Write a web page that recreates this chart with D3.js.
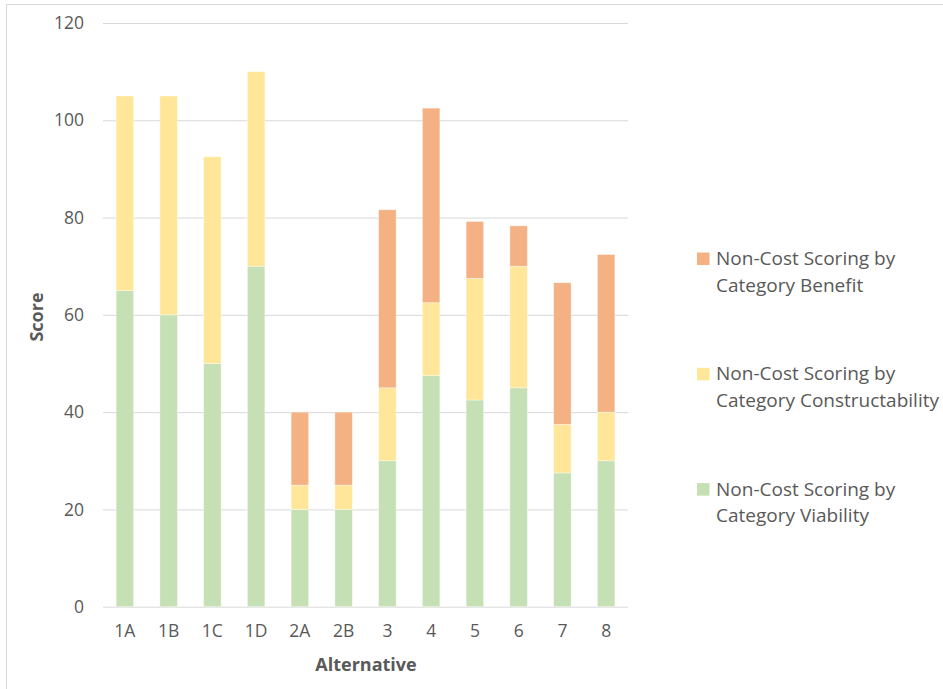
<!DOCTYPE html>
<html>
<head>
<meta charset="utf-8">
<script src="https://cdn.jsdelivr.net/npm/d3@7/dist/d3.min.js"></script>
<style>
  html, body { margin: 0; padding: 0; background: #fff; }
  svg { display: block; }
  text { font-family: "Open Sans", "Noto Sans", sans-serif; fill: #595959; }
</style>
</head>
<body>
<svg id="chart" width="943" height="689"></svg>
<script>
const categories = ["1A","1B","1C","1D","2A","2B","3","4","5","6","7","8"];
const viability = [65, 60, 50, 70, 20, 20, 30, 47.5, 42.5, 45, 27.5, 30];
const constructability = [40, 45, 42.5, 40, 5, 5, 15, 15, 25, 25, 10, 10];
const benefit = [0, 0, 0, 0, 15, 15, 36.6, 40, 11.7, 8.3, 29.1, 32.4];
const yTicks = [0, 20, 40, 60, 80, 100, 120];
const seriesNames = ["Non-Cost Scoring by Category Viability", "Non-Cost Scoring by Category Constructability", "Non-Cost Scoring by Category Benefit"];
const seriesKeys = ["viability", "constructability", "benefit"];
const seriesColors = ["#C5E0B4", "#FFE699", "#F4B183"];

const svg = d3.select("#chart");

// outer frame
svg.append("rect").attr("x", 6.5).attr("y", 4.5).attr("width", 960).attr("height", 700)
  .attr("fill", "none").attr("stroke", "#d9d9d9").attr("stroke-width", 1);

const plot = { left: 103, right: 628, top: 23, bottom: 606.7 };

const x = d3.scaleBand().domain(categories).range([plot.left, plot.right])
  .paddingInner(0.6).paddingOuter(0.3);
const y = d3.scaleLinear().domain([0, 120]).range([plot.bottom, plot.top]);

// gridlines
const yAxis = d3.axisLeft(y).tickValues(yTicks).tickSize(-(plot.right - plot.left)).tickPadding(19);
const gy = svg.append("g").attr("transform", `translate(${plot.left},0)`).call(yAxis);
gy.select(".domain").remove();
gy.selectAll(".tick line").attr("stroke", "#d9d9d9").attr("stroke-width", 1);
gy.selectAll(".tick text").attr("font-size", "17.5px").attr("fill", "#595959")
  .attr("font-family", "'Open Sans', sans-serif");

// data table
const table = categories.map((c, i) => ({
  cat: c, viability: viability[i], constructability: constructability[i], benefit: benefit[i]
}));
const stacked = d3.stack().keys(seriesKeys)(table);

svg.append("g").selectAll("g").data(stacked).join("g")
  .attr("fill", (d, i) => seriesColors[i])
  .selectAll("rect").data(d => d.filter(p => p[1] - p[0] > 0)).join("rect")
  .attr("x", d => x(d.data.cat))
  .attr("width", x.bandwidth())
  .attr("y", d => y(d[1]))
  .attr("height", d => y(d[0]) - y(d[1]))
  .attr("stroke", "#ffffff").attr("stroke-opacity", 0.5).attr("stroke-width", 0.75);

// x axis
const xAxis = d3.axisBottom(x).tickSize(0).tickPadding(18);
const gx = svg.append("g").attr("transform", `translate(0,${plot.bottom})`).call(xAxis);
gx.select(".domain").remove();
gx.selectAll(".tick text").attr("font-size", "17.5px").attr("fill", "#595959")
  .attr("font-family", "'Open Sans', sans-serif");

// axis titles
svg.append("text").attr("transform", `translate(43,317) rotate(-90)`)
  .attr("text-anchor", "middle").attr("font-size", "18px").attr("font-weight", "bold")
  .text("Score");
svg.append("text").attr("x", 366).attr("y", 671)
  .attr("text-anchor", "middle").attr("font-size", "18px").attr("font-weight", "bold")
  .text("Alternative");

// legend (reverse order: benefit on top)
const legendOrder = [2, 1, 0];
const legend = svg.append("g");
legendOrder.forEach((si, k) => {
  const base = 265 + k * 115.3;
  legend.append("rect").attr("x", 697).attr("y", base - 12.5).attr("width", 12.5).attr("height", 12.5)
    .attr("fill", seriesColors[si]);
  const words = seriesNames[si].split(" ");
  const line1 = words.slice(0, 3).join(" ");
  const line2 = words.slice(3).join(" ");
  legend.append("text").attr("x", 716).attr("y", base).attr("font-size", "19px").text(line1);
  legend.append("text").attr("x", 716).attr("y", base + 26.7).attr("font-size", "19px").text(line2);
});
</script>
</body>
</html>
